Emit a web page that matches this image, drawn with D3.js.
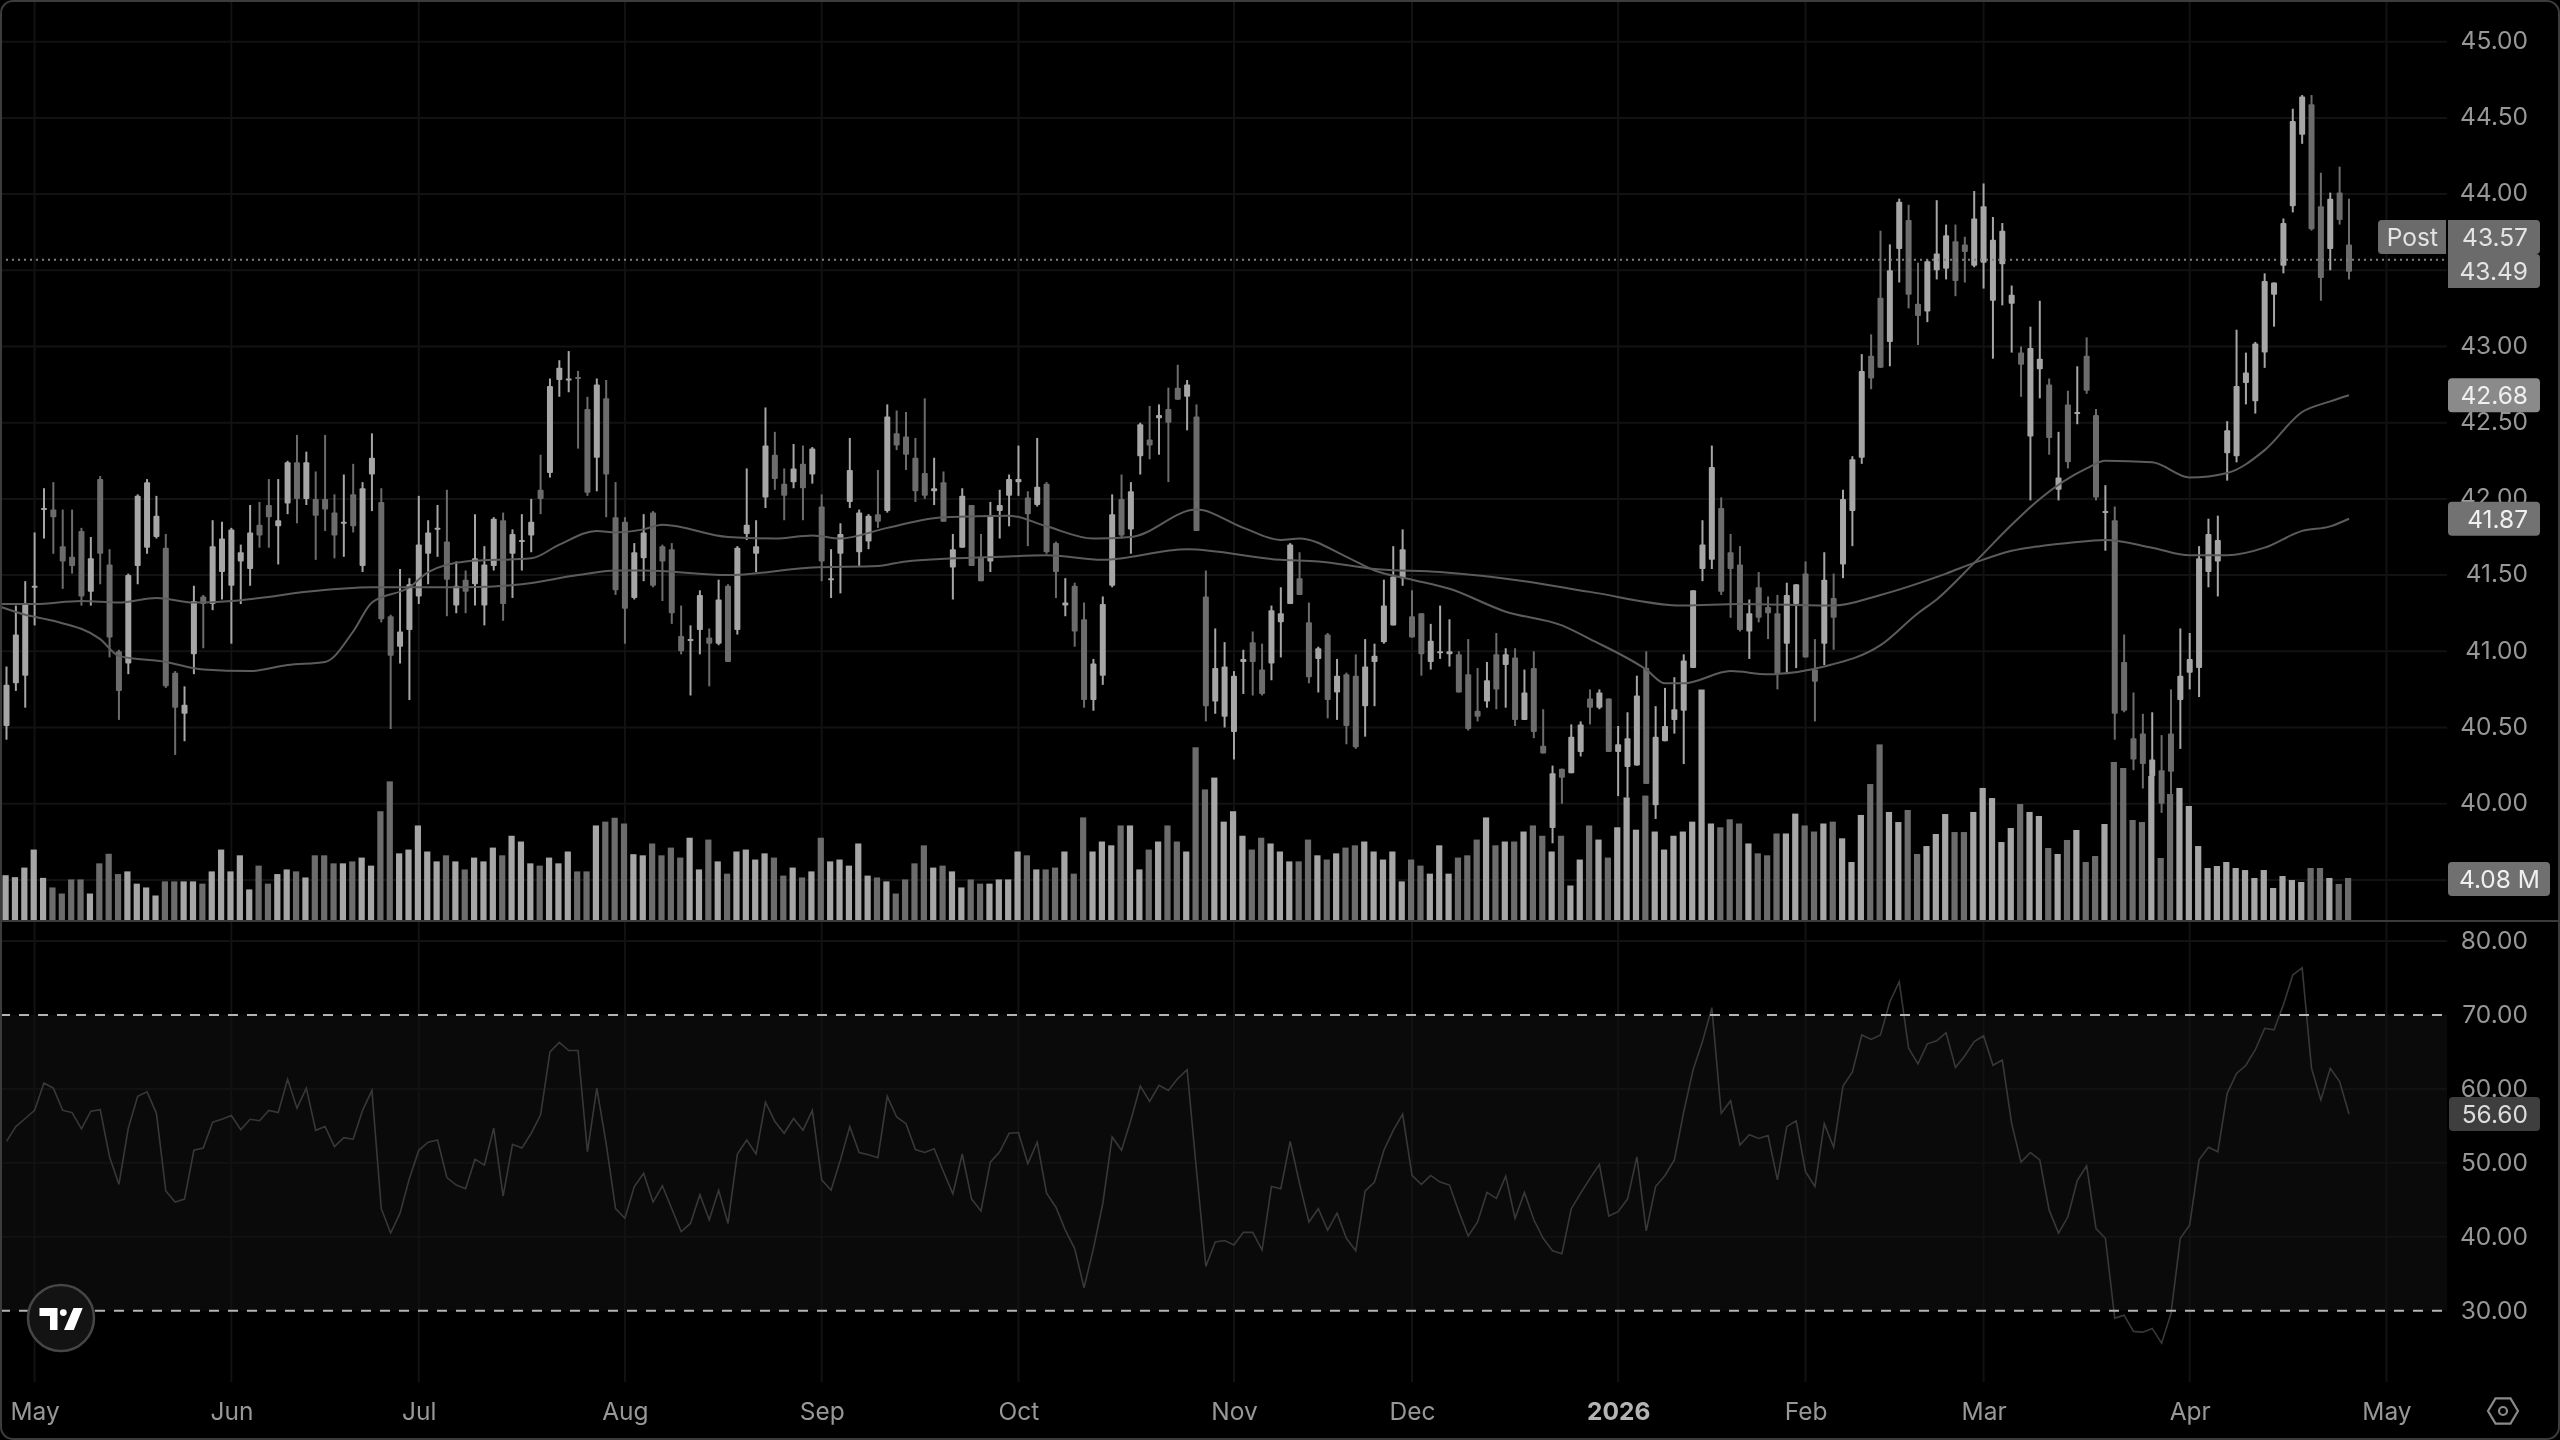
<!DOCTYPE html>
<html><head><meta charset="utf-8">
<style>html,body{margin:0;padding:0;background:#000;overflow:hidden}svg{display:block;filter:blur(0.55px)}text{font-family:Inter,"Noto Sans",sans-serif}</style>
<script src="https://cdn.jsdelivr.net/npm/d3@7"></script></head><body><script>
const opens=[40.51,40.79,40.84,41.42,41.93,41.93,41.69,41.62,41.79,41.39,
42.13,41.57,41.00,40.92,41.56,41.68,41.75,41.68,40.86,40.59,
40.98,41.36,41.31,41.52,41.43,41.59,41.54,41.83,41.96,41.82,
41.97,42.24,42.00,42.00,42.00,41.91,41.84,42.03,41.56,42.16,
41.98,41.23,41.03,41.14,41.36,41.64,41.80,41.72,41.30,41.47,
41.44,41.30,41.56,41.86,41.64,41.72,41.76,42.06,42.17,42.78,
42.78,42.80,42.59,42.27,42.66,41.88,41.85,41.35,41.61,41.91,
41.69,41.67,41.10,41.07,41.14,41.09,41.05,41.43,41.14,41.77,
41.64,42.01,42.29,42.10,42.11,42.23,42.16,41.95,41.47,41.64,
41.98,41.65,41.72,41.90,41.92,42.43,42.41,42.27,42.17,42.05,
42.11,41.55,41.68,41.96,41.62,41.59,41.92,42.02,42.11,42.01,
41.96,42.10,41.71,41.30,41.43,41.21,40.68,40.84,41.43,42.00,
41.80,42.28,42.39,42.53,42.59,42.73,42.67,42.54,41.36,40.67,
40.57,40.47,40.93,41.06,40.88,40.92,41.19,41.31,41.48,41.19,
40.95,41.11,40.73,40.85,40.84,40.64,40.93,41.06,41.17,41.48,
41.23,41.25,40.93,40.99,40.98,40.98,40.85,40.61,40.67,40.98,
40.91,40.96,40.55,40.89,40.38,39.84,40.23,40.20,40.34,40.69,
40.63,40.69,40.34,40.24,40.25,40.89,39.99,40.41,40.55,40.61,
40.89,41.54,41.60,41.94,41.65,41.57,41.13,41.42,41.29,41.25,
41.05,41.31,41.51,40.88,41.05,41.35,41.57,41.92,42.27,42.94,
43.32,43.03,43.64,43.83,43.28,43.23,43.50,43.51,43.69,43.67,
43.53,43.55,43.30,43.54,43.28,42.96,42.41,42.85,42.75,42.06,
42.62,42.56,42.94,42.55,41.91,41.86,40.93,40.43,40.46,40.18,
40.22,40.46,40.68,40.86,40.89,41.52,41.59,42.30,42.28,42.76,
42.64,42.96,43.34,43.53,43.92,44.39,44.59,43.92,43.64,44.01,
43.67];
const closes=[40.78,41.11,41.31,41.43,41.94,41.88,41.59,41.56,41.36,41.61,
41.64,41.09,40.74,41.50,42.02,42.11,41.89,40.77,40.63,40.65,
41.33,41.31,41.69,41.74,41.80,41.65,41.78,41.76,41.88,41.86,
42.24,42.00,42.24,41.89,41.93,41.76,41.85,41.82,42.07,42.27,
41.21,40.97,41.13,41.44,41.70,41.78,41.81,41.47,41.43,41.39,
41.61,41.57,41.87,41.31,41.77,41.73,41.85,42.00,42.74,42.86,
42.79,42.79,42.04,42.75,42.16,41.40,41.28,41.65,41.78,41.43,
41.59,41.25,41.00,41.08,41.37,41.05,41.34,40.93,41.68,41.83,
41.69,42.35,42.13,42.02,42.20,42.07,42.33,41.59,41.48,41.77,
42.19,41.91,41.89,41.85,42.54,42.35,42.29,42.05,42.02,42.07,
41.85,41.67,42.02,41.56,41.46,41.89,41.96,42.13,42.13,41.90,
42.08,41.65,41.52,41.32,41.13,40.68,40.92,41.31,41.90,41.76,
42.05,42.49,42.35,42.55,42.50,42.65,42.75,41.79,40.64,40.89,
40.90,40.84,40.95,40.93,40.72,41.27,41.25,41.70,41.37,40.83,
41.02,40.68,40.84,40.51,40.37,40.90,40.97,41.30,41.49,41.67,
41.09,40.98,41.07,41.00,41.00,40.73,40.49,40.57,40.81,40.75,
40.98,40.55,40.73,40.47,40.33,40.20,40.17,40.44,40.52,40.63,
40.73,40.34,40.39,40.43,40.71,40.13,40.44,40.51,40.62,40.94,
41.40,41.70,42.21,41.39,41.54,41.14,41.25,41.22,41.25,40.85,
41.37,41.44,40.96,40.80,41.47,41.22,42.00,42.26,42.84,42.79,
42.86,43.50,43.95,43.34,43.20,43.56,43.61,43.73,43.43,43.62,
43.84,43.92,43.70,43.76,43.34,42.88,42.99,42.92,42.40,42.14,
42.24,42.57,42.71,42.01,41.92,40.59,40.61,40.29,40.26,40.29,
40.00,40.21,40.84,40.95,41.61,41.77,41.73,42.45,42.74,42.83,
43.02,43.43,43.42,43.81,44.48,44.64,43.77,43.45,43.97,43.83,
43.49];
const highs=[40.90,41.30,41.46,41.78,42.07,42.11,41.93,41.93,41.81,41.75,
42.15,41.67,41.01,41.51,42.03,42.13,42.02,41.77,40.87,40.77,
41.43,41.37,41.86,41.85,41.81,41.70,41.96,41.98,42.13,42.13,
42.25,42.42,42.31,42.18,42.42,42.03,42.16,42.23,42.11,42.43,
42.07,41.24,41.54,41.48,42.02,41.86,41.96,42.06,41.59,41.53,
41.90,41.69,41.88,41.91,41.80,41.90,42.00,42.29,42.79,42.91,
42.97,42.84,42.67,42.79,42.78,42.11,41.88,41.71,41.90,41.92,
41.70,41.71,41.30,41.17,41.40,41.15,41.47,41.44,41.69,42.20,
41.86,42.60,42.44,42.20,42.36,42.35,42.34,42.03,41.67,41.84,
42.40,41.93,41.90,42.19,42.62,42.58,42.57,42.40,42.66,42.27,
42.18,41.77,42.07,41.96,41.77,41.98,42.06,42.16,42.35,42.05,
42.40,42.11,41.72,41.48,41.45,41.32,40.95,41.36,42.03,42.16,
42.11,42.50,42.61,42.62,42.73,42.88,42.78,42.62,41.53,41.15,
41.06,40.87,41.01,41.13,41.05,41.30,41.42,41.71,41.65,41.32,
41.03,41.12,40.95,40.86,40.98,41.08,41.05,41.47,41.69,41.80,
41.40,41.25,41.18,41.30,41.21,41.00,41.08,40.89,40.93,41.12,
41.02,41.02,40.88,41.00,40.62,40.25,40.23,40.52,40.54,40.75,
40.75,40.69,40.51,40.60,40.84,41.00,40.64,40.76,40.83,40.98,
41.40,41.86,42.35,42.01,41.77,41.69,41.34,41.52,41.36,41.37,
41.45,41.44,41.59,41.08,41.65,41.51,42.06,42.28,42.95,43.08,
43.76,43.67,43.97,43.93,43.55,43.57,43.96,43.80,43.80,43.72,
44.02,44.07,43.85,43.81,43.40,43.00,43.13,43.30,42.79,42.44,
42.71,42.87,43.06,42.59,42.09,41.95,41.11,40.73,40.59,40.60,
40.45,40.75,41.15,41.12,41.69,41.87,41.89,42.51,43.11,42.96,
43.03,43.48,43.42,43.84,44.56,44.65,44.65,44.14,44.01,44.18,
43.97];
const lows=[40.42,40.74,40.63,41.17,41.74,41.64,41.41,41.51,41.30,41.30,
41.44,40.96,40.55,40.85,41.44,41.64,41.74,40.76,40.32,40.41,
40.85,41.02,41.27,41.34,41.05,41.31,41.43,41.68,41.68,41.57,
41.90,41.84,41.96,41.60,41.79,41.61,41.62,41.78,41.52,41.92,
41.19,40.49,40.92,40.68,41.31,41.44,41.62,41.23,41.25,41.25,
41.30,41.17,41.53,41.20,41.35,41.53,41.65,41.90,42.14,42.67,
42.70,42.33,42.02,42.05,41.88,41.37,41.05,41.34,41.46,41.42,
41.33,41.18,40.98,40.71,40.98,40.77,41.04,40.93,41.11,41.73,
41.52,41.94,42.06,41.86,42.07,41.86,42.10,41.46,41.35,41.38,
41.94,41.56,41.67,41.81,41.91,42.32,42.19,41.98,42.00,41.96,
41.85,41.34,41.68,41.56,41.46,41.52,41.74,41.82,42.02,41.69,
41.95,41.64,41.35,41.23,41.03,40.63,40.61,40.78,41.42,41.74,
41.64,42.16,42.26,42.29,42.11,42.65,42.45,41.79,40.54,40.59,
40.50,40.29,40.72,40.71,40.71,40.81,40.96,41.31,41.37,40.79,
40.73,40.56,40.55,40.39,40.36,40.44,40.64,41.05,41.17,41.43,
41.09,40.84,40.88,40.95,40.90,40.73,40.48,40.54,40.63,40.62,
40.63,40.51,40.55,40.43,40.33,39.74,40.00,40.20,40.31,40.52,
40.62,40.34,40.05,40.04,40.25,40.13,39.90,40.41,40.46,40.26,
40.89,41.46,41.54,41.37,41.22,41.13,40.95,41.19,41.08,40.75,
40.86,40.89,40.96,40.54,40.91,41.01,41.48,41.69,42.23,42.72,
42.86,42.87,43.42,43.25,43.01,43.16,43.44,43.44,43.33,43.42,
43.52,43.38,42.92,43.27,42.96,42.67,41.99,42.66,42.29,41.99,
42.20,42.49,42.69,41.99,41.66,40.42,40.60,40.22,40.10,40.06,
39.94,40.06,40.36,40.75,40.70,41.42,41.36,42.12,42.24,42.62,
42.56,42.86,43.13,43.48,43.88,44.33,43.76,43.30,43.50,43.80,
43.44];
const volumes=[4.35,4.16,5.09,6.84,4.09,3.16,2.57,3.94,3.94,2.57,
5.50,6.43,4.46,4.72,3.53,3.16,2.38,3.75,3.75,3.75,
3.75,3.53,4.72,6.84,4.72,6.28,2.97,5.28,3.53,4.46,
4.91,4.72,4.13,6.28,6.28,5.50,5.50,5.69,6.06,5.28,
10.56,13.46,6.47,6.84,9.18,6.65,5.69,6.28,5.69,4.91,
6.06,5.69,7.03,6.28,8.18,7.62,5.50,5.28,6.06,5.50,
6.65,4.72,4.72,9.18,9.55,9.93,9.37,6.39,6.28,7.43,
6.28,7.03,6.06,7.99,4.91,7.81,5.69,4.50,6.65,6.84,
5.87,6.47,6.06,4.31,5.09,4.13,4.72,7.99,5.69,5.87,
5.28,7.43,4.31,4.13,3.75,2.57,3.94,5.50,7.25,5.09,
5.28,4.72,3.16,3.94,3.53,3.53,3.94,3.94,6.65,6.28,
4.91,4.91,5.09,6.65,4.50,9.96,6.65,7.62,7.25,9.18,
9.18,4.91,6.84,7.62,9.18,7.62,6.65,16.77,12.68,13.83,
9.55,10.56,8.18,6.84,7.99,7.43,6.65,5.69,5.69,7.81,
6.28,5.87,6.47,7.03,7.25,7.62,6.65,5.87,6.65,3.75,
5.87,5.28,4.50,7.25,4.50,6.06,6.28,7.81,9.96,7.25,
7.62,7.62,8.59,9.18,8.18,6.65,8.18,3.35,5.87,9.18,
7.81,6.06,9.00,11.90,8.77,12.08,8.59,6.84,8.18,8.59,
9.55,22.38,9.37,9.00,9.78,9.37,7.43,6.47,6.28,8.40,
8.40,10.33,9.18,8.59,9.37,9.55,7.93,5.63,10.20,13.20,
17.05,10.49,9.51,10.68,6.41,7.18,8.35,10.29,8.54,8.54,
10.49,12.82,11.84,7.57,8.93,11.26,10.49,10.10,6.99,6.41,
7.77,8.74,5.63,6.21,9.32,15.34,14.76,9.71,9.51,13.98,
6.02,12.23,12.82,11.07,7.18,5.05,5.24,5.63,5.05,4.85,
4.08,4.85,3.11,4.27,3.88,3.69,5.05,5.05,4.08,3.50,
4.08];
const rsi=[52.9,54.9,56.0,57.1,60.8,60.1,57.1,56.8,54.6,57.0,
57.2,50.8,47.1,54.7,59.0,59.6,56.7,46.2,44.7,45.1,
51.7,52.0,55.5,55.9,56.4,54.5,55.9,55.7,57.1,56.8,
61.3,57.4,60.1,54.4,54.9,52.2,53.4,53.2,57.1,59.8,
43.8,40.5,43.2,47.9,51.7,52.8,53.1,48.0,47.0,46.5,
50.5,49.7,54.7,45.5,52.5,52.0,54.0,56.5,65.0,66.3,
65.2,65.2,51.5,60.1,52.6,43.8,42.5,46.8,48.6,44.7,
46.9,43.8,40.7,41.8,45.7,42.3,46.3,41.8,51.2,53.1,
51.2,58.2,55.6,54.0,56.0,54.4,57.1,47.7,46.3,50.4,
54.9,51.4,51.1,50.7,59.0,56.2,55.3,51.8,51.4,51.9,
48.8,45.8,51.2,45.1,43.5,50.1,51.5,54.0,54.1,49.9,
52.8,45.9,44.0,40.9,38.4,33.1,38.4,44.5,53.5,51.7,
55.8,60.4,58.3,60.5,59.8,61.4,62.6,49.0,36.0,39.3,
39.5,38.9,40.6,40.6,38.2,46.8,46.5,52.9,47.2,42.0,
43.8,40.9,43.2,39.8,38.1,46.2,47.4,51.7,54.4,56.6,
48.3,47.1,48.3,47.4,47.0,43.4,40.1,42.0,46.0,45.2,
48.2,42.5,46.0,42.3,39.8,38.1,37.7,43.8,45.9,47.9,
49.8,42.8,43.4,45.1,50.8,40.8,46.8,48.3,50.4,56.9,
62.6,66.4,71.0,56.7,58.4,52.4,53.8,53.3,53.7,47.7,
54.9,55.7,48.8,46.8,55.3,52.1,60.4,62.3,67.3,66.7,
67.3,71.8,74.5,65.5,63.4,66.1,66.5,67.6,62.9,64.5,
66.4,67.2,63.2,63.9,55.3,50.1,51.4,50.4,43.6,40.5,
42.7,47.6,49.6,41.1,39.8,29.0,29.4,27.2,27.1,27.6,
25.6,29.6,39.8,41.6,50.4,52.1,51.5,59.4,62.1,63.2,
65.3,68.2,68.0,71.4,75.4,76.4,62.8,58.5,62.8,61.0,
56.6];
const slowMaBars=[-1,3,8,12,16,20,24,27,32,39,44,49,55,61,65,68,77,86,93,96,106,111,117,126,136,140,146,153,162,169,179,185,195,200,207,210,214,217,220,224,229,233,237,241,245,248,250];
const slowMaVals=[41.31,41.31,41.33,41.32,41.35,41.32,41.33,41.35,41.39,41.42,41.42,41.42,41.44,41.50,41.53,41.53,41.50,41.55,41.56,41.59,41.62,41.63,41.60,41.67,41.60,41.59,41.54,41.52,41.46,41.39,41.30,41.31,41.30,41.37,41.51,41.58,41.66,41.69,41.71,41.73,41.68,41.63,41.63,41.68,41.79,41.82,41.87];
const fastMaBars=[-1,2,5,10,12,17,21,26,30,34,37,39,43,45,49,56,59,63,65,68,70,77,82,86,89,94,100,107,111,116,120,127,132,136,138,143,146,150,154,160,166,169,175,177,179,184,188,194,200,204,206,210,214,217,222,224,229,233,237,241,245,248,250];
const fastMaVals=[41.30,41.24,41.20,41.08,40.97,40.93,40.88,40.87,40.91,40.93,41.13,41.32,41.42,41.52,41.59,41.61,41.70,41.79,41.78,41.80,41.83,41.75,41.74,41.76,41.74,41.81,41.88,41.89,41.82,41.74,41.75,41.93,41.81,41.73,41.74,41.62,41.53,41.47,41.41,41.26,41.17,41.08,40.88,40.79,40.79,40.87,40.85,40.90,41.04,41.25,41.34,41.58,41.83,42.00,42.20,42.25,42.24,42.14,42.17,42.32,42.57,42.64,42.68];
const priceTicks=[45,44.5,44,43.5,43,42.5,42,41.5,41,40.5,40];
const rsiTicks=[80,70,60,50,40,30];
const rsiBands=[70,30];
const monthBars=[3,24,44,66,87,108,131,150,172,192,211,233,254];
const monthLabels=["May","Jun","Jul","Aug","Sep","Oct","Nov","Dec","2026","Feb","Mar","Apr","May"];
const postPrice=43.57, lastClose=43.49;

const W=2560,H=1440,plotR=2447;
const x=d3.scaleLinear().domain([0,250]).range([6.5,2349]);
const yP=d3.scaleLinear().domain([39.5,45]).range([879.9,41.7]);
const yV=d3.scaleLinear().domain([0,22.38]).range([920,689.5]);
const yR=d3.scaleLinear().domain([30,70]).range([1310.7,1015]);
const svg=d3.select("body").append("svg").attr("width",W).attr("height",H).attr("viewBox",`0 0 ${W} ${H}`);
svg.append("rect").attr("width",W).attr("height",H).attr("fill","#000");
svg.append("defs").append("clipPath").attr("id","plot").append("rect").attr("x",0).attr("y",0).attr("width",plotR).attr("height",H);

const GRID="#121212";
// RSI band
svg.append("rect").attr("x",0).attr("y",yR(70)).attr("width",plotR).attr("height",yR(30)-yR(70)).attr("fill","#0a0a0a");
// grids
const g=svg.append("g").attr("stroke",GRID).attr("stroke-width",2);
g.selectAll(".h").data(priceTicks.concat([39.5])).join("line").attr("x1",0).attr("x2",plotR).attr("y1",d=>yP(d)).attr("y2",d=>yP(d));
g.selectAll(".r").data(rsiTicks.filter(d=>!rsiBands.includes(d))).join("line").attr("x1",0).attr("x2",plotR).attr("y1",d=>yR(d)).attr("y2",d=>yR(d));
g.selectAll(".v").data(monthBars).join("line").attr("x1",d=>x(d)).attr("x2",d=>x(d)).attr("y1",2).attr("y2",1382);
// separator
svg.append("line").attr("x1",0).attr("x2",W).attr("y1",921).attr("y2",921).attr("stroke","#3a3a3a").attr("stroke-width",2);

const LIGHT="#a6a6a6",DARK="#6c6c6c";
const idx=d3.range(opens.length);
const up=i=>closes[i]>=opens[i];
// volume
svg.append("g").selectAll("rect").data(idx).join("rect")
 .attr("x",i=>x(i)-4).attr("width",6.2).attr("y",i=>yV(volumes[i])).attr("height",i=>yV(0)-yV(volumes[i]))
 .attr("fill",i=>up(i)?LIGHT:DARK);
// wicks
svg.append("g").selectAll("line").data(idx).join("line")
 .attr("x1",i=>x(i)).attr("x2",i=>x(i)).attr("y1",i=>yP(highs[i])).attr("y2",i=>yP(lows[i]))
 .attr("stroke",i=>up(i)?LIGHT:DARK).attr("stroke-width",2);
// bodies
svg.append("g").selectAll("rect").data(idx).join("rect")
 .attr("x",i=>x(i)-3).attr("width",6).attr("rx",1)
 .attr("y",i=>yP(Math.max(opens[i],closes[i]))).attr("height",i=>Math.max(2,Math.abs(yP(opens[i])-yP(closes[i]))))
 .attr("fill",i=>up(i)?LIGHT:DARK);
// moving averages
const maLine=d3.line().x(d=>x(d[0])).y(d=>yP(d[1])).curve(d3.curveMonotoneX);
const maG=svg.append("g").attr("clip-path","url(#plot)").attr("fill","none").attr("stroke","#5c5c5c").attr("stroke-width",2);
maG.append("path").attr("d",maLine(slowMaBars.map((b,i)=>[b,slowMaVals[i]])));
maG.append("path").attr("d",maLine(fastMaBars.map((b,i)=>[b,fastMaVals[i]])));
// dotted post line
svg.append("line").attr("x1",0).attr("x2",plotR).attr("y1",yP(postPrice)).attr("y2",yP(postPrice))
 .attr("stroke","#808080").attr("stroke-width",2).attr("stroke-dasharray","2 4");
// RSI
svg.append("path").attr("fill","none").attr("stroke","#383838").attr("stroke-width",1.6)
 .attr("d",d3.line().x(i=>x(i)).y(i=>yR(rsi[i]))(idx));
svg.append("g").selectAll("line").data(rsiBands).join("line").attr("x1",0).attr("x2",plotR).attr("y1",d=>yR(d)).attr("y2",d=>yR(d))
 .attr("stroke","#b4b4b4").attr("stroke-width",2).attr("stroke-dasharray","10 9");

// axes
const TICK="#979797",FS=24.5;
function axisStyle(sel,anchor){
 sel.select(".domain").remove();sel.selectAll(".tick line").remove();
 sel.selectAll("text").attr("fill",TICK).style("font-size",FS+"px").style("font-family","Inter,'Noto Sans',sans-serif").attr("text-anchor",anchor);
}
svg.append("g").attr("transform","translate(2528,-1)").call(d3.axisRight(yP).tickValues(priceTicks).tickSize(0).tickPadding(0).tickFormat(d3.format(".2f"))).call(axisStyle,"end");
svg.append("g").attr("transform","translate(2528,0)").call(d3.axisRight(yR).tickValues(rsiTicks).tickSize(0).tickPadding(0).tickFormat(d3.format(".2f"))).call(axisStyle,"end");
const xAxis=svg.append("g").attr("transform","translate(0,1403)").call(d3.axisBottom(x).tickValues(monthBars).tickSize(0).tickPadding(0).tickFormat((d,i)=>monthLabels[i]));
axisStyle(xAxis,"middle");
xAxis.selectAll("text").filter(t=>monthLabels[monthBars.indexOf(t)]==="2026").attr("fill","#b4b4b4").style("font-weight",700);

// value tags
function tag(x0,x1,y0,y1,fill,txt,tx,color,rl,rr){
 const r=4;
 const d=`M${x0+(rl?r:0)},${y0}H${x1-(rr?r:0)}${rr?`Q${x1},${y0} ${x1},${y0+r}`:""}V${y1-(rr?r:0)}${rr?`Q${x1},${y1} ${x1-r},${y1}`:""}H${x0+(rl?r:0)}${rl?`Q${x0},${y1} ${x0},${y1-r}`:""}V${y0+(rl?r:0)}${rl?`Q${x0},${y0} ${x0+r},${y0}`:""}Z`;
 svg.append("path").attr("d",d).attr("fill",fill);
 svg.append("text").attr("x",tx).attr("y",(y0+y1)/2).attr("dy","0.36em").attr("text-anchor","end").attr("fill",color).style("font-size",FS+"px").text(txt);
}
tag(2378,2446,220,254,"#6b6b6b","Post",2438,"#e4e4e4",true,false);
tag(2448,2540,254,288,"#6b6b6b",d3.format(".2f")(lastClose),2528,"#e4e4e4",false,true);
tag(2448,2540,220,254,"#6b6b6b",d3.format(".2f")(postPrice),2528,"#e4e4e4",false,true);
tag(2448,2540,yP(42.68)-17,yP(42.68)+17,"#8a8a8a",d3.format(".2f")(42.68),2528,"#f0f0f0",true,true);
tag(2448,2540,yP(41.87)-17,yP(41.87)+17,"#727272",d3.format(".2f")(41.87),2528,"#f0f0f0",true,true);
tag(2448,2550,862,896,"#707070",volumes[250].toFixed(2)+" M",2540,"#f0f0f0",true,true);
tag(2449,2540,yR(56.6)-17,yR(56.6)+17,"#3e3e3e",d3.format(".2f")(rsi[250]),2528,"#dcdcdc",true,true);

// logo
const lg=svg.append("g").attr("transform","translate(0,1260)");
lg.append("circle").attr("cx",61).attr("cy",58).attr("r",33).attr("fill","#131313").attr("stroke","#464646").attr("stroke-width",2.5);
lg.append("path").attr("fill","#fff").attr("d","M39.5,48H57.5V70H50V56H39.5Z M73.5,48H82.7L73.8,70H64Z");
lg.append("circle").attr("cx",63.3).attr("cy",52.6).attr("r",3.4).attr("fill","#fff");
// settings icon
const c=[2503,1411];
const hex=d3.range(6).map(k=>{const a=k*Math.PI/3;return [c[0]+15*Math.cos(a),c[1]+14.5*Math.sin(a)];});
svg.append("path").attr("d",d3.line()(hex)+"Z").attr("fill","none").attr("stroke","#8a8a8a").attr("stroke-width",2.2);
svg.append("circle").attr("cx",c[0]).attr("cy",c[1]).attr("r",4).attr("fill","none").attr("stroke","#8a8a8a").attr("stroke-width",2.2);
// frame
svg.append("rect").attr("x",1).attr("y",1).attr("width",W-2).attr("height",H-2).attr("rx",12).attr("fill","none").attr("stroke","#3c3c3c").attr("stroke-width",2);
</script></body></html>
